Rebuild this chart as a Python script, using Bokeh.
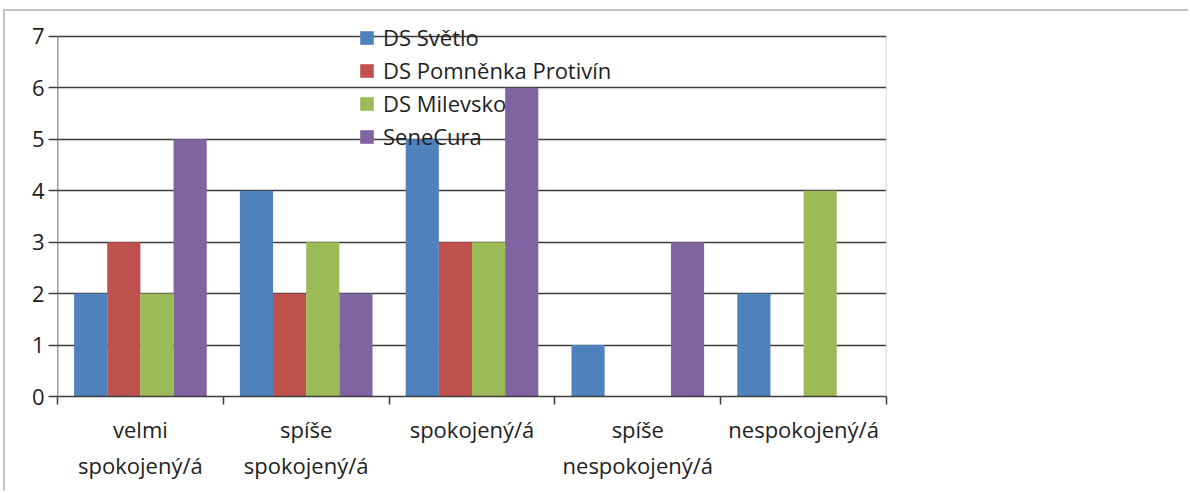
from bokeh.plotting import figure
from bokeh.models import (Range1d, LinearAxis, FixedTicker, Legend, LegendItem)
from bokeh.embed import file_html
from bokeh.resources import INLINE

# Satisfaction answers per care home
categories = ["velmi\nspokojený/á", "spíše\nspokojený/á", "spokojený/á",
              "spíše\nnespokojený/á", "nespokojený/á"]
series_names = ["DS Světlo", "DS Pomněnka Protivín", "DS Milevsko", "SeneCura"]
ds_svetlo = [2, 4, 5, 1, 2]
ds_pomnenka = [3, 2, 3, 0, 0]
ds_milevsko = [2, 3, 3, 0, 4]
senecura = [5, 2, 6, 3, 0]
y_ticks = [0, 1, 2, 3, 4, 5, 6, 7]

colors = ["#4F81BD", "#C0504D", "#9BBB59", "#8064A2"]
FONT = "Open Sans"
FS = "22px"
TEXT = "#1e1e1e"
GRID = "#3c3c3c"

n = len(categories)
centers = [i + 0.5 for i in range(n)]
y_max = y_ticks[-1]

# a little head room above the top gridline keeps the legend inside the frame
p = figure(x_range=Range1d(0, n), y_range=Range1d(0, y_max + 0.25),
           width=1185, height=482, output_backend="svg", toolbar_location=None,
           x_axis_location=None, min_border_left=52, min_border_right=304,
           min_border_top=12, min_border_bottom=97,
           styles={"margin-left": "3px", "margin-top": "9px",
                   "border-left": "2px solid #c4c4c4",
                   "border-top": "2px solid #c4c4c4"})
p.outline_line_color = None
p.background_fill_color = "white"
p.border_fill_color = "white"

p.xgrid.grid_line_color = None
p.ygrid.ticker = FixedTicker(ticks=y_ticks)
p.ygrid.grid_line_color = GRID
p.ygrid.grid_line_width = 1.5

# plot-area edges: light right border, dark value axis line
p.segment(x0=[n], y0=[0], x1=[n], y1=[y_max], line_color="#c8c8c8", line_width=1.5)
p.segment(x0=[0], y0=[0], x1=[0], y1=[y_max], line_color=GRID, line_width=1.5)

# four bars per category, side by side, filling 80 % of the slot
offsets = [-0.3, -0.1, 0.1, 0.3]
renderers = []
for values, off, col in zip([ds_svetlo, ds_pomnenka, ds_milevsko, senecura],
                            offsets, colors):
    r = p.vbar(x=[c + off for c in centers], top=values, width=0.2,
               fill_color=col, line_color=None)
    renderers.append(r)

# y axis
yax = p.yaxis[0]
yax.ticker = FixedTicker(ticks=y_ticks)
yax.minor_tick_line_color = None
yax.major_tick_in = 0
yax.major_tick_out = 9
yax.major_tick_line_color = GRID
yax.major_tick_line_width = 1.5
yax.axis_line_color = None
yax.major_label_text_font = FONT
yax.major_label_text_font_size = FS
yax.major_label_text_color = TEXT
yax.major_label_standoff = 4

# category boundary ticks on the bottom axis (ticks only, no labels)
edge_axis = LinearAxis(ticker=FixedTicker(ticks=list(range(n + 1))))
edge_axis.major_label_text_font_size = "1px"
edge_axis.major_label_text_color = None
edge_axis.major_label_standoff = 0
edge_axis.minor_tick_line_color = None
edge_axis.major_tick_in = 0
edge_axis.major_tick_out = 8
edge_axis.major_tick_line_color = GRID
edge_axis.major_tick_line_width = 1.5
edge_axis.axis_line_color = GRID
edge_axis.axis_line_width = 1.5
p.add_layout(edge_axis, "below")

# category names centred in each slot
cat_axis = LinearAxis(ticker=FixedTicker(ticks=centers),
                      major_label_overrides={c: lab for c, lab in zip(centers, categories)})
cat_axis.axis_line_color = None
cat_axis.major_tick_line_color = None
cat_axis.minor_tick_line_color = None
cat_axis.major_label_text_font = FONT
cat_axis.major_label_text_font_size = FS
cat_axis.major_label_text_color = TEXT
cat_axis.major_label_standoff = 3
p.add_layout(cat_axis, "below")

legend = Legend(items=[LegendItem(label=name, renderers=[r])
                       for name, r in zip(series_names, renderers)],
                location=(301, 245), orientation="vertical",
                glyph_width=17, glyph_height=17, label_height=17,
                label_standoff=8, spacing=3, padding=0, margin=0,
                label_text_font=FONT, label_text_font_size=FS,
                label_text_color=TEXT, background_fill_alpha=0,
                border_line_color=None)
p.add_layout(legend, "center")

open("out.html", "w").write(file_html(p, INLINE))
